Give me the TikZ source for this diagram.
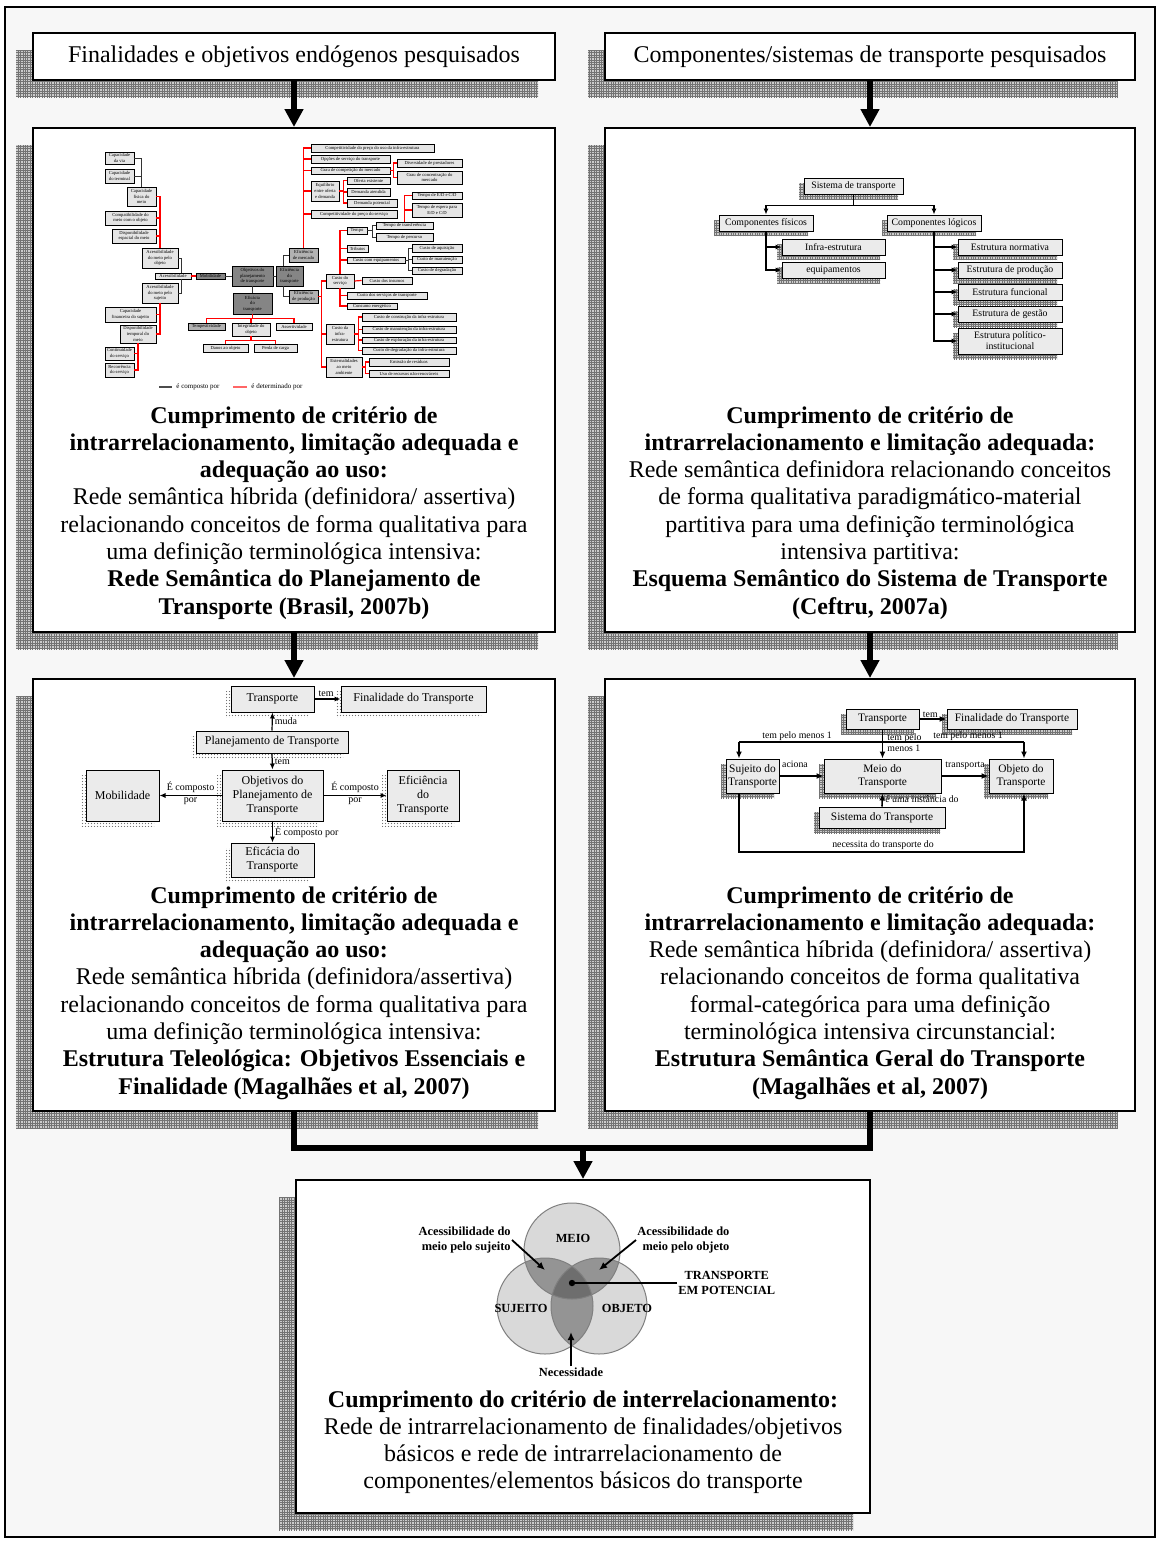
\documentclass[tikz,border=0pt]{standalone}
\usepackage{fontspec}
\setmainfont{Liberation Serif}
\usetikzlibrary{arrows.meta,calc,patterns}

\pgfdeclarepatternformonly{finegrid}{\pgfpoint{-0.1pt}{-0.1pt}}{\pgfpoint{1.3pt}{1.3pt}}{\pgfpoint{1.2pt}{1.2pt}}{%
  \pgfsetlinewidth{0.3pt}%
  \pgfpathmoveto{\pgfpoint{0pt}{0.6pt}}\pgfpathlineto{\pgfpoint{1.2pt}{0.6pt}}%
  \pgfpathmoveto{\pgfpoint{0.6pt}{0pt}}\pgfpathlineto{\pgfpoint{0.6pt}{1.2pt}}%
  \pgfusepath{stroke}}
\pgfdeclarepatternformonly{finedots}{\pgfpoint{-0.2pt}{-0.2pt}}{\pgfpoint{1.7pt}{1.7pt}}{\pgfpoint{1.5pt}{1.5pt}}{%
  \pgfpathcircle{\pgfpoint{0.75pt}{0.75pt}}{0.3pt}\pgfusepath{fill}}

\tikzset{
  span/.style n args={4}{at={({(#1+#3)/2},{(#2+#4)/2})}, minimum width={(#3-#1)*0.5pt}, minimum height={(#4-#2)*0.5pt}},
  gridshadow/.style={preaction={fill=black!20, transform canvas={xshift=-#1,yshift=-#1}},
    preaction={pattern=finegrid, pattern color=black!55, transform canvas={xshift=-#1,yshift=-#1}}},
  dotshadow/.style={preaction={pattern=finedots, pattern color=black!55, transform canvas={xshift=-#1,yshift=-#1}}},
  panel/.style={draw=black, line width=1pt, fill=white, inner sep=0pt, gridshadow=8.5pt},
  ptext/.style={align=center, inner sep=0pt, font=\fontsize{12}{13.65}\selectfont},
  nbox/.style={draw=black, line width=0.45pt, fill=black!10, inner sep=0pt, align=center, font=\fontsize{2.3}{2.8}\selectfont},
  ndark/.style={nbox, fill=black!48},
  nmid/.style={nbox, fill=black!30},
  cblk/.style={black!80, line width=0.5pt},
  cred/.style={red, line width=0.6pt},
  lgd/.style={font=\fontsize{3.5}{4}\selectfont, inner sep=0pt},
  tbox/.style={draw=black, line width=0.5pt, fill=black!8, inner sep=0pt, align=center, font=\fontsize{4.9}{5.6}\selectfont, gridshadow=2.5pt},
  tarr/.style={line width=0.6pt, -{Latex[length=3pt,width=2.6pt]}},
  sbox/.style={draw=black, line width=0.5pt, fill=black!8, inner sep=0pt, align=center, font=\fontsize{6}{7}\selectfont, dotshadow=2.5pt},
  sarr/.style={line width=0.6pt, -{Latex[length=3pt,width=2.6pt]}},
  slbl/.style={font=\fontsize{5}{5.5}\selectfont, inner sep=1pt},
  mbox/.style={draw=black, line width=0.5pt, fill=black!8, inner sep=0pt, align=center, font=\fontsize{5.7}{6.4}\selectfont, gridshadow=2.5pt},
  marr/.style={line width=0.8pt, -{Latex[length=3.5pt,width=3pt]}},
  mlbl/.style={font=\fontsize{4.9}{5.6}\selectfont, inner sep=0.5pt},
  venn/.style={font=\fontsize{6.2}{7.5}\selectfont\bfseries, inner sep=0.5pt},
  varr/.style={line width=0.9pt, -{Latex[length=4pt,width=3.5pt]}},
  bigline/.style={line width=3pt},
  bigarrow/.style={line width=3pt, -{Triangle[length=9pt,width=9pt]}},
}

\begin{document}
\begin{tikzpicture}[x=0.5pt,y=-0.5pt]
	\useasboundingbox (0,0) rectangle (1160,1542);
	\draw[fill=black!3, line width=0.6pt] (5,7) rectangle (1155,1537);

	% headers and panels
	\node[panel, span={33}{33}{555}{80}, font=\fontsize{12}{13.5}\selectfont] (h1) {Finalidades e objetivos endógenos pesquisados};
	\node[panel, span={605}{33}{1135}{80}, font=\fontsize{12}{13.5}\selectfont] (h2) {Componentes/sistemas de transporte pesquisados};
	\node[panel, span={33}{128}{555}{632}] (p1) {};
	\node[panel, span={605}{128}{1135}{632}] (p2) {};
	\node[panel, span={33}{679}{555}{1111}] (p3) {};
	\node[panel, span={605}{679}{1135}{1111}] (p4) {};
	\node[panel, span={296}{1180}{870}{1513}] (p5) {};

	\draw[bigarrow] (h1.south) -- (p1.north);
	\draw[bigarrow] (h2.south) -- (p2.north);
	\draw[bigarrow] (p1.south) -- (p3.north);
	\draw[bigarrow] (p2.south) -- (p4.north);
	\coordinate (mrg) at (583,1148);
	\draw[bigline] (p3.south) |- (mrg) -| (p4.south);
	\draw[bigarrow] (mrg) -- (p5.north);

	% panel 1: rede semantica
	\node[nbox, span={105}{152}{134}{164}] (cv) {Capacidade\\da via};
	\node[nbox, span={105}{169}{134}{183}] (ct) {Capacidade\\do terminal};
	\node[nbox, span={127}{187}{156}{206}] (cf) {Capacidade\\física do\\meio};
	\node[nbox, span={105}{211}{156}{225}] (cmo) {Compatibilidade do\\meio com o objeto};
	\node[nbox, span={112}{229}{156}{243}] (dem) {Disponibilidade\\espacial do meio};
	\node[nbox, span={142}{248}{178}{268}] (amo) {Acessibilidade\\do meio pelo\\objeto};
	\node[nbox, span={155}{273}{191}{279}] (acc) {Acessibilidade};
	\node[ndark, span={196}{273}{225}{279}] (mob) {Mobilidade};
	\node[ndark, span={232}{266}{273}{286}] (obj) {Objetivos do\\planejamento\\de transporte};
	\node[ndark, span={276}{266}{303}{286}] (eft) {Eficiência\\do\\transporte};
	\node[ndark, span={233}{293}{272}{314}] (efc) {Eficácia\\do\\transporte};
	\node[nbox, span={142}{283}{178}{303}] (ams) {Acessibilidade\\do meio pelo\\sujeito};
	\node[nbox, span={105}{307}{156}{322}] (cfs) {Capacidade\\financeira do sujeito};
	\node[nbox, span={120}{325}{156}{343}] (dtm) {Disponibilidade\\temporal do\\meio};
	\node[nbox, span={105}{347}{134}{360}] (con) {Continuidade\\do serviço};
	\node[nbox, span={105}{363}{134}{377}] (rec) {Recorrência\\do serviço};
	\node[nmid, span={188}{323}{225}{330}] (tem) {Tempestividade};
	\node[nbox, span={232}{323}{270}{336}] (itg) {Integridade do\\objeto};
	\node[nbox, span={276}{323}{312}{330}] (ass) {Assertividade};
	\node[nbox, span={203}{344}{248}{352}] (dan) {Danos ao objeto};
	\node[nbox, span={254}{344}{297}{352}] (per) {Perda de carga};
	\node[nmid, span={289}{248}{318}{262}] (mer) {Eficiência\\de mercado};
	\node[nmid, span={289}{290}{318}{303}] (prd) {Eficiência\\de produção};

	\node[nbox, span={311}{144}{434}{152}] (cpi) {Competitividade do preço do uso da infra-estrutura};
	\node[nbox, span={311}{155}{390}{163}] (ost) {Opções de serviço do transporte};
	\node[nbox, span={311}{167}{390}{174}] (gcm) {Grau de competição do mercado};
	\node[nbox, span={311}{181}{339}{201}] (eqd) {Equilíbrio\\entre oferta\\e demanda};
	\node[nbox, span={311}{210}{397}{218}] (cps) {Competitividade do preço do serviço};
	\node[nbox, span={397}{159}{462}{167}] (div) {Diversidade de prestadores};
	\node[nbox, span={397}{171}{462}{184}] (gco) {Grau de concentração do\\mercado};
	\node[nbox, span={347}{177}{390}{184}] (ofe) {Oferta existente};
	\node[nbox, span={347}{188}{390}{196}] (dat) {Demanda atendida};
	\node[nbox, span={347}{199}{397}{207}] (dpo) {Demanda potencial};
	\node[nbox, span={412}{192}{462}{199}] (ted) {Tempo de E/D e C/D};
	\node[nbox, span={412}{203}{462}{217}] (tep) {Tempo de espera para\\E/D e C/D};
	\node[nbox, span={347}{227}{367}{234}] (tmp) {Tempo};
	\node[nbox, span={376}{222}{433}{229}] (ttr) {Tempo de transferência};
	\node[nbox, span={376}{233}{433}{241}] (tpe) {Tempo de percurso};
	\node[nbox, span={347}{245}{368}{252}] (trb) {Tributos};
	\node[nbox, span={347}{257}{405}{263}] (ceq) {Custo com equipamentos};
	\node[nbox, span={412}{244}{462}{252}] (caq) {Custo de aquisição};
	\node[nbox, span={412}{256}{462}{263}] (cma) {Custo de manutenção};
	\node[nbox, span={412}{267}{462}{274}] (cdg) {Custo de degradação};
	\node[nbox, span={326}{274}{354}{288}] (csv) {Custo do\\serviço};
	\node[nbox, span={362}{277}{412}{284}] (ins) {Custo dos insumos};
	\node[nbox, span={347}{292}{427}{299}] (csr) {Custo dos serviços de transporte};
	\node[nbox, span={347}{303}{397}{309}] (cen) {Consumo energético};
	\node[nbox, span={326}{324}{354}{344}] (cin) {Custo da\\infra-\\estrutura};
	\node[nbox, span={362}{313}{456}{321}] (ccn) {Custo de construção da infra-estrutura};
	\node[nbox, span={362}{326}{456}{333}] (cmi) {Custo de manutenção da infra-estrutura};
	\node[nbox, span={362}{337}{456}{343}] (cei) {Custo de exploração da infra-estrutura};
	\node[nbox, span={362}{347}{456}{354}] (cdi) {Custo de degradação da infra-estrutura};
	\node[nbox, span={326}{357}{362}{377}] (ext) {Externalidades\\ao meio\\ambiente};
	\node[nbox, span={369}{358}{449}{366}] (emr) {Emissão de resíduos};
	\node[nbox, span={369}{370}{449}{377}] (urn) {Uso de recursos não-renováveis};

	\draw[cblk] (cv.east) -| (cf.north);
	\draw[cblk] (ct.east) -| (cf.north);
	\draw[cred] (cf.east) -| (amo.north);
	\draw[cred] (cmo.east) -| (amo.north);
	\draw[cred] (dem.east) -| (amo.north);
	\draw[cblk] (amo.east) -| ($(acc.north)+(8,0)$);
	\draw[cblk] (ams.east) -| ($(acc.south)+(8,0)$);
	\draw[cred] (acc.east) -- (mob.west);
	\draw[cblk] (mob.east) -- (obj.west);
	\draw[cblk] (obj.east) -- (eft.west);
	\draw[cblk] (obj.south) -- (efc.north);
	\draw[cred] (ams.south) |- (cfs.east);
	\draw[cred] (ams.south) |- (dtm.east);
	\draw[cred] (dtm.south) |- (con.east);
	\draw[cred] (dtm.south) |- (rec.east);
	\draw[cred] (efc.south) -- ++(0,4) -| (tem.north);
	\draw[cred] (efc.south) -- ++(0,4) -| (itg.north);
	\draw[cred] (efc.south) -- ++(0,4) -| (ass.north);
	\draw[cred] (itg.south) -- ++(0,4) -| (dan.north);
	\draw[cred] (itg.south) -- ++(0,4) -| (per.north);
	\draw[cblk] ($(eft.north)+(-6,0)$) |- (mer.west);
	\draw[cblk] ($(eft.south)+(-6,0)$) |- (prd.west);

	\draw[cred] (mer.north) |- (cpi.west);
	\draw[cred] (mer.north) |- (ost.west);
	\draw[cred] (mer.north) |- (gcm.west);
	\draw[cred] (mer.north) |- (eqd.west);
	\draw[cred] (mer.north) |- (cps.west);
	\draw[cred] (gcm.east) -- ++(3,0) |- (div.west);
	\draw[cred] (gcm.east) -- ++(3,0) |- (gco.west);
	\draw[cred] (eqd.east) -- ++(4,0) |- (ofe.west);
	\draw[cred] (eqd.east) -- ++(4,0) |- (dat.west);
	\draw[cred] (eqd.east) -- ++(4,0) |- (dpo.west);
	\draw[cred] (ttr.north) |- (ted.west);
	\draw[cred] (ttr.north) |- (tep.west);
	\draw[cblk] (tmp.east) -- ++(5,0) |- (ttr.west);
	\draw[cblk] (tmp.east) -- ++(5,0) |- (tpe.west);
	\draw[cblk] (ceq.east) -- ++(3,0) |- (caq.west);
	\draw[cblk] (ceq.east) -- ++(3,0) |- (cma.west);
	\draw[cblk] (ceq.east) -- ++(3,0) |- (cdg.west);
	\draw[cred] (csv.north) |- (tmp.west);
	\draw[cred] (csv.north) |- (trb.west);
	\draw[cred] (csv.north) |- (ceq.west);
	\draw[cred] (csv.east) -- (ins.west);
	\draw[cred] (csv.south) |- (csr.west);
	\draw[cred] (csv.south) |- (cen.west);
	\draw[cred] (prd.east) -- ++(3,0) |- (csv.west);
	\draw[cred] (prd.east) -- ++(3,0) |- (cin.west);
	\draw[cred] (prd.east) -- ++(3,0) |- (ext.west);
	\draw[cred] (cin.east) -- ++(4,0) |- (ccn.west);
	\draw[cred] (cin.east) -- ++(4,0) |- (cmi.west);
	\draw[cred] (cin.east) -- ++(4,0) |- (cei.west);
	\draw[cred] (cin.east) -- ++(4,0) |- (cdi.west);
	\draw[cred] (ext.east) -- ++(3,0) |- (emr.west);
	\draw[cred] (ext.east) -- ++(3,0) |- (urn.west);

	% legenda
	\draw[black!70, line width=0.8pt] (159,387) -- (172,387);
	\node[lgd, anchor=west] (lg1) at (176,387) {é composto por};
	\draw[red!60, line width=0.8pt] (233,387) -- (247,387);
	\node[lgd, anchor=west] (lg2) at (251,387) {é determinado por};

	\node[ptext, anchor=north] (t1) at (294,406) {\textbf{Cumprimento de critério de}\\\textbf{intrarrelacionamento, limitação adequada e}\\\textbf{adequação ao uso:}\\Rede semântica híbrida (definidora/ assertiva)\\relacionando conceitos de forma qualitativa para\\uma definição terminológica intensiva:\\\textbf{Rede Semântica do Planejamento de}\\\textbf{Transporte (Brasil, 2007b)}};

	% panel 2: esquema semantico
	\node[tbox, span={804}{178}{903}{194}] (sis) {Sistema de transporte};
	\node[tbox, span={719}{215}{813}{231}] (cfi) {Componentes físicos};
	\node[tbox, span={887}{215}{981}{231}] (clo) {Componentes lógicos};
	\node[tbox, span={782}{239}{885}{255}] (ies) {Infra-estrutura};
	\node[tbox, span={782}{262}{885}{278}] (equ) {equipamentos};
	\node[tbox, span={958}{239}{1062}{255}] (enr) {Estrutura normativa};
	\node[tbox, span={958}{262}{1062}{278}] (epr) {Estrutura de produção};
	\node[tbox, span={958}{284}{1062}{300}] (efu) {Estrutura funcional};
	\node[tbox, span={958}{306}{1062}{322}] (ege) {Estrutura de gestão};
	\node[tbox, span={958}{328}{1062}{354}] (epi) {Estrutura político-\\institucional};

	\draw[tarr] (sis.south) -- ++(0,11) -| (cfi.north);
	\draw[tarr] (sis.south) -- ++(0,11) -| (clo.north);
	\draw[tarr] (cfi.south) |- (ies.west);
	\draw[tarr] (cfi.south) |- (equ.west);
	\draw[tarr] (clo.south) |- (enr.west);
	\draw[tarr] (clo.south) |- (epr.west);
	\draw[tarr] (clo.south) |- (efu.west);
	\draw[tarr] (clo.south) |- (ege.west);
	\draw[tarr] (clo.south) |- (epi.west);

	\node[ptext, anchor=north] (t2) at (870,406) {\textbf{Cumprimento de critério de}\\\textbf{intrarrelacionamento e limitação adequada:}\\Rede semântica definidora relacionando conceitos\\de forma qualitativa paradigmático-material\\partitiva para uma definição terminológica\\intensiva partitiva:\\\textbf{Esquema Semântico do Sistema de Transporte}\\\textbf{(Ceftru, 2007a)}};

	% panel 3: estrutura teleologica
	\node[sbox, span={231}{686}{314}{712}] (tr3) {Transporte};
	\node[sbox, span={341}{686}{486}{712}] (fi3) {Finalidade do Transporte};
	\node[sbox, span={196}{731}{348}{753}] (pl3) {Planejamento de Transporte};
	\node[sbox, span={222}{770}{323}{821}] (ob3) {Objetivos do\\Planejamento de\\Transporte};
	\node[sbox, span={387}{770}{459}{821}] (ef3) {Eficiência\\do\\Transporte};
	\node[sbox, span={86}{770}{159}{821}] (mo3) {Mobilidade};
	\node[sbox, span={231}{843}{314}{877}] (ec3) {Eficácia do\\Transporte};

	\draw[sarr] (tr3.east) -- node[slbl, above, pos=0.45] {tem} (fi3.west);
	\draw[sarr] (pl3.north) -- node[slbl, right] {muda} (tr3.south);
	\draw[sarr] (pl3.south) -- node[slbl, right] {tem} (ob3.north);
	\draw[sarr] (ob3.east) -- node[slbl, above] {É composto} node[slbl, below] {por} (ef3.west);
	\draw[sarr] (ob3.west) -- node[slbl, above] {É composto} node[slbl, below] {por} (mo3.east);
	\draw[sarr] (ob3.south) -- node[slbl, right] {É composto por} (ec3.north);

	\node[ptext, anchor=north] (t3) at (294,886) {\textbf{Cumprimento de critério de}\\\textbf{intrarrelacionamento, limitação adequada e}\\\textbf{adequação ao uso:}\\Rede semântica híbrida (definidora/assertiva)\\relacionando conceitos de forma qualitativa para\\uma definição terminológica intensiva:\\\textbf{Estrutura Teleológica: Objetivos Essenciais e}\\\textbf{Finalidade (Magalhães et al, 2007)}};

	% panel 4: estrutura semantica geral
	\node[mbox, span={846}{709}{919}{729}] (tr4) {Transporte};
	\node[mbox, span={947}{709}{1077}{729}] (fi4) {Finalidade do Transporte};
	\node[mbox, span={726}{759}{779}{793}] (su4) {Sujeito do\\Transporte};
	\node[mbox, span={824}{759}{941}{793}] (me4) {Meio do\\Transporte};
	\node[mbox, span={989}{759}{1053}{793}] (ob4) {Objeto do\\Transporte};
	\node[mbox, span={819}{807}{945}{828}] (si4) {Sistema do Transporte};

	\coordinate (bl) at (739,742);
	\coordinate (br) at (1024,742);
	\coordinate (nl) at (739,852);
	\coordinate (nr) at (1024,852);
	\draw[marr] (tr4.east) -- node[mlbl, above, pos=0.4] {tem} (fi4.west);
	\draw[marr] (tr4.south) -- (me4.north);
	\draw[line width=0.8pt] (bl) -- (br);
	\draw[marr] (bl) -- (bl |- su4.north);
	\draw[marr] (br) -- (br |- ob4.north);
	\draw[marr] (su4.east) -- (me4.west);
	\draw[marr] (me4.east) -- (ob4.west);
	\draw[marr] (si4.north) -- (me4.south);
	\draw[marr] (su4.south -| nl) -- (nl) -- (nr) -- (nr |- ob4.south);
	\node[mlbl, anchor=base] (l41) at (797,738) {tem pelo menos 1};
	\node[mlbl, anchor=north west, align=left] (l42) at (886,732) {tem pelo\\menos 1};
	\node[mlbl, anchor=base] (l43) at (968,738) {tem pelo menos 1};
	\node[mlbl, anchor=base] (l44) at (795,767) {aciona};
	\node[mlbl, anchor=base] (l45) at (965,767) {transporta};
	\node[mlbl, anchor=west] (l46) at (884,799) {é uma instância do};
	\node[mlbl, anchor=base] (l47) at (883,847) {necessita do transporte do};

	\node[ptext, anchor=north] (t4) at (870,886) {\textbf{Cumprimento de critério de}\\\textbf{intrarrelacionamento e limitação adequada:}\\Rede semântica híbrida (definidora/ assertiva)\\relacionando conceitos de forma qualitativa\\formal-categórica para uma definição\\terminológica intensiva circunstancial:\\\textbf{Estrutura Semântica Geral do Transporte}\\\textbf{(Magalhães et al, 2007)}};

	% panel 5: diagrama de Venn
	\coordinate (cm) at (572,1251);
	\coordinate (cs) at (545,1306);
	\coordinate (co) at (599,1306);
	\fill[black!15] (cm) circle (24pt);
	\fill[black!15] (cs) circle (24pt);
	\fill[black!15] (co) circle (24pt);
	\begin{scope}
		\clip (cm) circle (24pt);
		\fill[black!42] (cs) circle (24pt);
		\fill[black!42] (co) circle (24pt);
	\end{scope}
	\begin{scope}
		\clip (cs) circle (24pt);
		\fill[black!42] (co) circle (24pt);
	\end{scope}
	\begin{scope}
		\clip (cm) circle (24pt);
		\clip (cs) circle (24pt);
		\fill[black!57] (co) circle (24pt);
	\end{scope}
	\draw[black!50, line width=0.5pt] (cm) circle (24pt) (cs) circle (24pt) (co) circle (24pt);

	\node[venn] (lm) at (573,1238) {MEIO};
	\node[venn] (ls) at (521,1308) {SUJEITO};
	\node[venn] (lo) at (627,1308) {OBJETO};
	\node[venn, align=right, anchor=east] (las) at (512,1240) {Acessibilidade do\\meio pelo sujeito};
	\node[venn, align=right, anchor=west] (lao) at (636,1240) {Acessibilidade do\\meio pelo objeto};
	\node[venn, align=center, anchor=west] (ltp) at (677,1283) {TRANSPORTE\\EM POTENCIAL};
	\node[venn] (lne) at (571,1372) {Necessidade};
	\coordinate (dot) at (572,1283);
	\coordinate (pas) at (545,1270);
	\coordinate (pao) at (599,1270);
	\coordinate (pne) at (571,1332);
	\draw[varr] (las.east) -- (pas);
	\draw[varr] (lao.west) -- (pao);
	\draw[line width=0.9pt] (ltp.west) -- (dot);
	\fill (dot) circle (1.6pt);
	\draw[varr] (lne.north) -- (pne);

	\node[ptext, anchor=north] (t5) at (583,1390) {\textbf{Cumprimento do critério de interrelacionamento:}\\Rede de intrarrelacionamento de finalidades/objetivos\\básicos e rede de intrarrelacionamento de\\componentes/elementos básicos do transporte};
\end{tikzpicture}
\end{document}
